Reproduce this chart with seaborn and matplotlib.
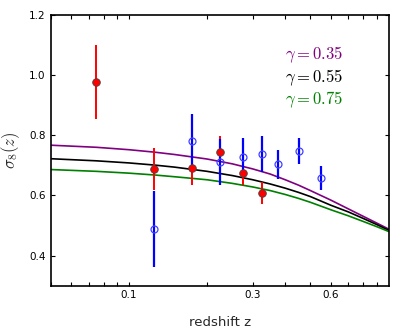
import matplotlib
matplotlib.use("Agg")
import matplotlib.pyplot as plt
import matplotlib.ticker as mticker
import pandas as pd
import seaborn as sns

# model curves
z_model = [0.05, 0.075, 0.1, 0.125, 0.15, 0.2, 0.25, 0.3, 0.35, 0.4, 0.45, 0.5, 0.6, 0.7, 0.8, 0.9, 1.0]
sig_035 = [0.767, 0.760, 0.752, 0.744, 0.736, 0.721, 0.705, 0.688, 0.671, 0.652, 0.634, 0.616, 0.584, 0.555, 0.530, 0.508, 0.488]
sig_055 = [0.722, 0.715, 0.708, 0.701, 0.694, 0.680, 0.666, 0.652, 0.638, 0.624, 0.610, 0.596, 0.567, 0.545, 0.523, 0.503, 0.484]
sig_075 = [0.686, 0.680, 0.674, 0.668, 0.662, 0.652, 0.640, 0.628, 0.616, 0.603, 0.590, 0.577, 0.552, 0.532, 0.513, 0.496, 0.480]

# red (filled) data
z_red = [0.075, 0.125, 0.175, 0.225, 0.275, 0.325]
s_red = [0.978, 0.689, 0.691, 0.744, 0.674, 0.608]
e_red = [0.123, 0.070, 0.055, 0.053, 0.040, 0.036]

# blue (open) data
z_blue = [0.125, 0.175, 0.225, 0.275, 0.325, 0.375, 0.45, 0.55]
s_blue = [0.488, 0.782, 0.711, 0.727, 0.737, 0.703, 0.747, 0.659]
e_blue = [0.125, 0.088, 0.077, 0.065, 0.060, 0.048, 0.044, 0.040]

gammas = ["0.35", "0.55", "0.75"]
colors = ["purple", "black", "green"]

sns.set_style("ticks")
plt.rcParams["font.family"] = ["DejaVu Sans"]
plt.rcParams["mathtext.fontset"] = "cm"
plt.rcParams["xtick.direction"] = "in"
plt.rcParams["ytick.direction"] = "in"
plt.rcParams["xtick.top"] = True
plt.rcParams["ytick.right"] = True

fig = plt.figure(figsize=(3.99, 3.34), dpi=100)
ax = fig.add_axes([0.127, 0.145, 0.847, 0.81])

curves = pd.DataFrame({"z": z_model, "0.35": sig_035, "0.55": sig_055, "0.75": sig_075})
for g, c in zip(gammas, colors):
    sns.lineplot(data=curves, x="z", y=g, color=c, linewidth=1.2, ax=ax)

ax.errorbar(z_red, s_red, yerr=e_red, fmt="none", ecolor="red", elinewidth=1.4, zorder=3)
ax.errorbar(z_blue, s_blue, yerr=e_blue, fmt="o", color="blue", mfc="none", mec="#4040ff",
            ms=5, mew=0.9, elinewidth=1.6, zorder=4)
sns.scatterplot(x=z_red, y=s_red, color="red", edgecolor="#444444", linewidth=0.6,
                s=30, zorder=5, ax=ax)

ax.set_xscale("log")
ax.set_xlim(0.05, 1.0)
ax.set_ylim(0.3, 1.2)
ax.xaxis.set_major_locator(mticker.FixedLocator([0.1, 0.3, 0.6]))
ax.xaxis.set_major_formatter(mticker.FixedFormatter(["0.1", "0.3", "0.6"]))
ax.xaxis.set_minor_locator(mticker.LogLocator(base=10, subs=range(2, 10)))
ax.xaxis.set_minor_formatter(mticker.NullFormatter())
ax.set_yticks([0.4, 0.6, 0.8, 1.0, 1.2])
ax.yaxis.set_major_formatter(mticker.FormatStrFormatter("%.1f"))
ax.tick_params(which="both", length=3, width=0.8, labelsize=7.5, colors="black")

for s in ax.spines.values():
    s.set_linewidth(1.2)
    s.set_color("black")

ax.set_xlabel("redshift z", fontsize=9.5, labelpad=11)
ax.set_ylabel(r"$\sigma_8(z)$", fontsize=12, labelpad=5)

for i, (g, c) in enumerate(zip(gammas, colors)):
    ax.text(0.693, 0.854 - i * 0.084, r"$\gamma=" + g + "$", color=c, fontsize=12,
            transform=ax.transAxes, ha="left", va="center")

fig.savefig("out.png", dpi=100)
